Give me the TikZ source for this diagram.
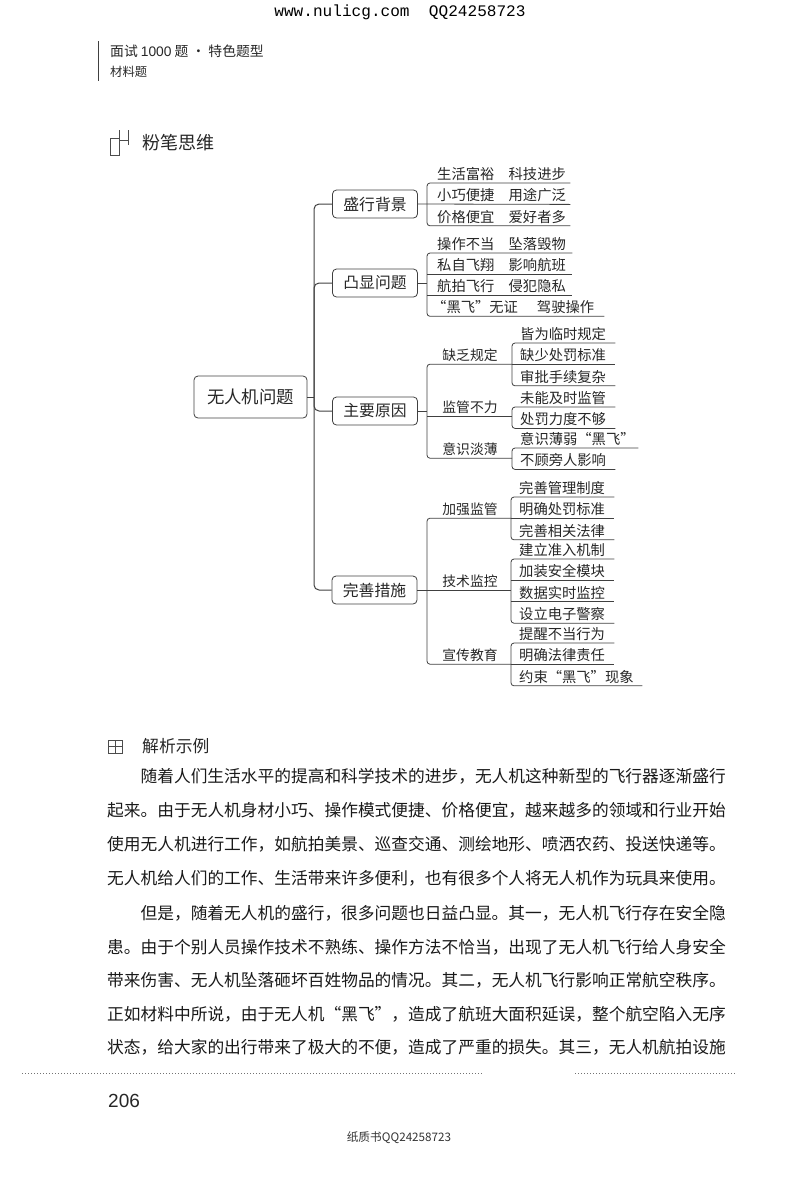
\documentclass[tikz,border=0pt]{standalone}
\usepackage{fontspec}
\setmainfont{Noto Sans CJK SC}
\newfontfamily\ascfont{Liberation Sans}
\newfontfamily\webfont{Liberation Mono}
\usepackage{tikz}
\usetikzlibrary{positioning}

\begin{document}
\begin{tikzpicture}[
          x=1pt, y=-1pt,
          node distance=0pt,
          tree/.style={draw=black!75, line width=0.8pt},
          rootbox/.style={rectangle, rounded corners=4pt, tree, font=\fontsize{17.4}{18}\selectfont,
                      minimum width=113pt, minimum height=42pt, inner sep=0pt, text=black!85},
          mainbox/.style={rectangle, rounded corners=4pt, tree, font=\fontsize{15.8}{18}\selectfont,
                      minimum width=85pt, minimum height=28pt, inner sep=0pt, text=black!85},
          midtext/.style={font=\fontsize{13.8}{16}\selectfont, minimum height=18pt, inner sep=0pt, text=black!85},
          leaf/.style={font=\fontsize{14.3}{16}\selectfont, align=left, inner ysep=0pt, text height=14pt,
                      text depth=0pt, minimum height=21pt, text=black!85},
          leafa/.style={leaf, inner xsep=4pt, text width=#1, execute at begin node=\hspace*{6pt}},
          leafb/.style={leaf, inner xsep=8pt, text width=#1},
          bodyline/.style={font=\fontsize{16.72}{18}\selectfont, anchor=west, inner sep=0pt, text=black!90},
          headtext/.style={anchor=west, inner sep=0pt, text=black!85}
        ]
        \useasboundingbox (0,0) rectangle (800,1189);
        % page head
        \node[inner sep=0pt, font=\webfont\fontsize{16.1}{18}\selectfont] (web) at (400,12) {www.nulicg.com\ \ QQ24258723};
        \coordinate (ruletop) at (98,41);
        \coordinate (rulebot) at (98,81);
        \draw[black!75, line width=0.7pt] (ruletop)--(rulebot);
        \node[headtext, font=\fontsize{13.8}{16}\selectfont] (book) at (110,51) {面试 {\ascfont 1000} 题 · 特色题型};
        \node[headtext, font=\fontsize{12.3}{14}\selectfont] (kind) at (110,72) {材料题};
        \node[headtext, font=\fontsize{18}{20}\selectfont] (think) at (142,143) {粉笔思维};
        \draw[black!70, line width=0.5pt] (119,138) -- (110,138) -- (110,155) -- (119,155) -- (119,130);
        \draw[black!70, line width=0.5pt] (119,140) -- (128,140) (128,130) -- (128,145);

        % root and main branches
        \node[rootbox] (root) at (250.5,397) {无人机问题};
        \node[mainbox] (bg) at (375,204) {盛行背景};
        \node[mainbox] (wt) at (375,283) {凸显问题};
        \node[mainbox] (yy) at (375,411) {主要原因};
        \node[mainbox] (cs) at (374.5,590) {完善措施};
        \coordinate (trunk) at (314,397);
        \draw[tree, line width=1pt] (root)--(trunk);
        \draw[tree, line width=1pt, rounded corners=5pt] (bg.west) -| (trunk) |- (cs.west);
        \draw[tree, line width=1pt, rounded corners=5pt] (wt.west) -| (trunk);
        \draw[tree, line width=1pt, rounded corners=5pt] (yy.west) -| (trunk);

        % background
        \node[leafa=135pt, anchor=south west] (a1) at (427,183) {生活富裕\quad 科技进步};
        \node[leafa=135pt, below=of a1] (a2) {小巧便捷\quad 用途广泛};
        \node[leafa=135pt, below=of a2] (a3) {价格便宜\quad 爱好者多};
        \draw[tree, rounded corners=3pt] (a1.south east) -- (a1.south west) -- (a3.south west) -- (a3.south east);
        \draw[tree] (bg.east) -- (a2.south east);

        % problems
        \node[leafa=137pt, anchor=south west, minimum height=20.7pt] (b1) at (427,253) {操作不当\quad 坠落毁物};
        \node[leafa=137pt, below=of b1, minimum height=20.7pt] (b2) {私自飞翔\quad 影响航班};
        \node[leafa=137pt, below=of b2, minimum height=20.7pt] (b3) {航拍飞行\quad 侵犯隐私};
        \node[leaf, inner xsep=5pt, text width=167pt, anchor=north west, minimum height=20.7pt] (b4) at (b3.south west) {“黑飞”无证\hspace{19pt}驾驶操作};
        \draw[tree, rounded corners=3pt] (b1.south east) -- (b1.south west) -- (b4.south west) -- (b4.south east);
        \draw[tree] (b2.south west) -- (b2.south east);
        \draw[tree] (b3.south west) -- (b3.south east);
        \draw[tree] (wt.east) -- (wt.east -| b1.south west);

        % causes
        \node[midtext] (qf) at (470,355) {缺乏规定};
        \node[midtext] (jg) at (470,407) {监管不力};
        \node[midtext] (ys) at (470,449) {意识淡薄};
        \node[leafb=87pt, anchor=south west] (c1) at (512,343) {皆为临时规定};
        \node[leafb=87pt, below=of c1] (c2) {缺少处罚标准};
        \node[leafb=87pt, below=of c2] (c3) {审批手续复杂};
        \node[leafb=87pt, anchor=south west] (d1) at (512,407) {未能及时监管};
        \node[leafb=87pt, below=of d1] (d2) {处罚力度不够};
        \node[leafb=110pt, anchor=south west] (e1) at (512,448) {意识薄弱“黑飞”};
        \node[leafb=87pt, anchor=north west] (e2) at (e1.south west) {不顾旁人影响};
        \coordinate (hubc) at (427,411);
        \draw[tree, rounded corners=3pt] (c1.south west |- qf.south) -| (hubc) |- (c1.south west |- ys.south);
        \draw[tree] (yy.east)--(hubc);
        \draw[tree] (hubc |- jg.south) -- (jg.south -| d1.south west);
        \draw[tree, rounded corners=3pt] (c1.south east) -- (c1.south west) -- (c3.south west) -- (c3.south east);
        \draw[tree] (c2.south west) -- (c2.south east);
        \draw[tree, rounded corners=3pt] (d1.south east) -- (d1.south west) -- (d2.south west) -- (d2.south east);
        \draw[tree, rounded corners=3pt] (e1.south east) -- (e1.south west) -- (e2.south west) -- (e2.south east);

        % measures
        \node[midtext] (jq) at (470,509) {加强监管};
        \node[midtext] (js) at (470,581) {技术监控};
        \node[midtext] (xc) at (470,655) {宣传教育};
        \node[leafb=87pt, anchor=south west] (f1) at (511,497) {完善管理制度};
        \node[leafb=87pt, below=of f1] (f2) {明确处罚标准};
        \node[leafb=87pt, below=of f2] (f3) {完善相关法律};
        \node[leafb=87pt, anchor=south west] (g1) at (511,559) {建立准入机制};
        \node[leafb=87pt, below=of g1] (g2) {加装安全模块};
        \node[leafb=87pt, below=of g2] (g3) {数据实时监控};
        \node[leafb=87pt, below=of g3] (g4) {设立电子警察};
        \node[leafb=87pt, anchor=south west] (h1) at (511,643) {提醒不当行为};
        \node[leafb=87pt, below=of h1] (h2) {明确法律责任};
        \node[leafb=115pt, anchor=north west] (h3) at (h2.south west) {约束“黑飞”现象};
        \coordinate (hubf) at (427,590);
        \draw[tree, rounded corners=3pt] (f1.south west |- jq.south) -| (hubf) |- (f1.south west |- xc.south);
        \draw[tree] (cs.east)--(g1.south west |- cs.east);
        \draw[tree, rounded corners=3pt] (f1.south east) -- (f1.south west) -- (f3.south west) -- (f3.south east);
        \draw[tree] (f2.south west) -- (f2.south east);
        \draw[tree, rounded corners=3pt] (g1.south east) -- (g1.south west) -- (g4.south west) -- (g4.south east);
        \draw[tree] (g2.south west) -- (g2.south east);
        \draw[tree] (g3.south west) -- (g3.south east);
        \draw[tree, rounded corners=3pt] (h1.south east) -- (h1.south west) -- (h3.south west) -- (h3.south east);
        \draw[tree] (h2.south west) -- (h2.south east);

        % analysis text
        \draw[black!70, line width=0.6pt] (108,740) rectangle (122,753) (115,740) -- (115,753) (108,746.5) -- (122,746.5);
        \node[headtext, font=\fontsize{16.8}{20}\selectfont] (ana) at (142,746) {解析示例};
        \node[bodyline] (p1) at (140.4,776) {随着人们生活水平的提高和科学技术的进步，无人机这种新型的飞行器逐渐盛行};
        \node[bodyline] (p2) at (107,810) {起来。由于无人机身材小巧、操作模式便捷、价格便宜，越来越多的领域和行业开始};
        \node[bodyline] (p3) at (107,844) {使用无人机进行工作，如航拍美景、巡查交通、测绘地形、喷洒农药、投送快递等。};
        \node[bodyline] (p4) at (107,878) {无人机给人们的工作、生活带来许多便利，也有很多个人将无人机作为玩具来使用。};
        \node[bodyline] (p5) at (140.4,913) {但是，随着无人机的盛行，很多问题也日益凸显。其一，无人机飞行存在安全隐};
        \node[bodyline] (p6) at (107,947) {患。由于个别人员操作技术不熟练、操作方法不恰当，出现了无人机飞行给人身安全};
        \node[bodyline] (p7) at (107,980) {带来伤害、无人机坠落砸坏百姓物品的情况。其二，无人机飞行影响正常航空秩序。};
        \node[bodyline] (p8) at (107,1014) {正如材料中所说，由于无人机“黑飞”，造成了航班大面积延误，整个航空陷入无序};
        \node[bodyline] (p9) at (107,1047) {状态，给大家的出行带来了极大的不便，造成了严重的损失。其三，无人机航拍设施};
        \draw[black!55, dotted, line width=1pt] (22,1073) -- (482,1073) (575,1073) -- (735,1073);

        % page foot
        \node[headtext, font=\ascfont\fontsize{19}{20}\selectfont] (page) at (108,1101) {206};
        \node[inner sep=0pt, text=black!80, font=\fontsize{11.7}{14}\selectfont] (foot) at (399,1138) {纸质书QQ24258723};
      \end{tikzpicture}
\end{document}
